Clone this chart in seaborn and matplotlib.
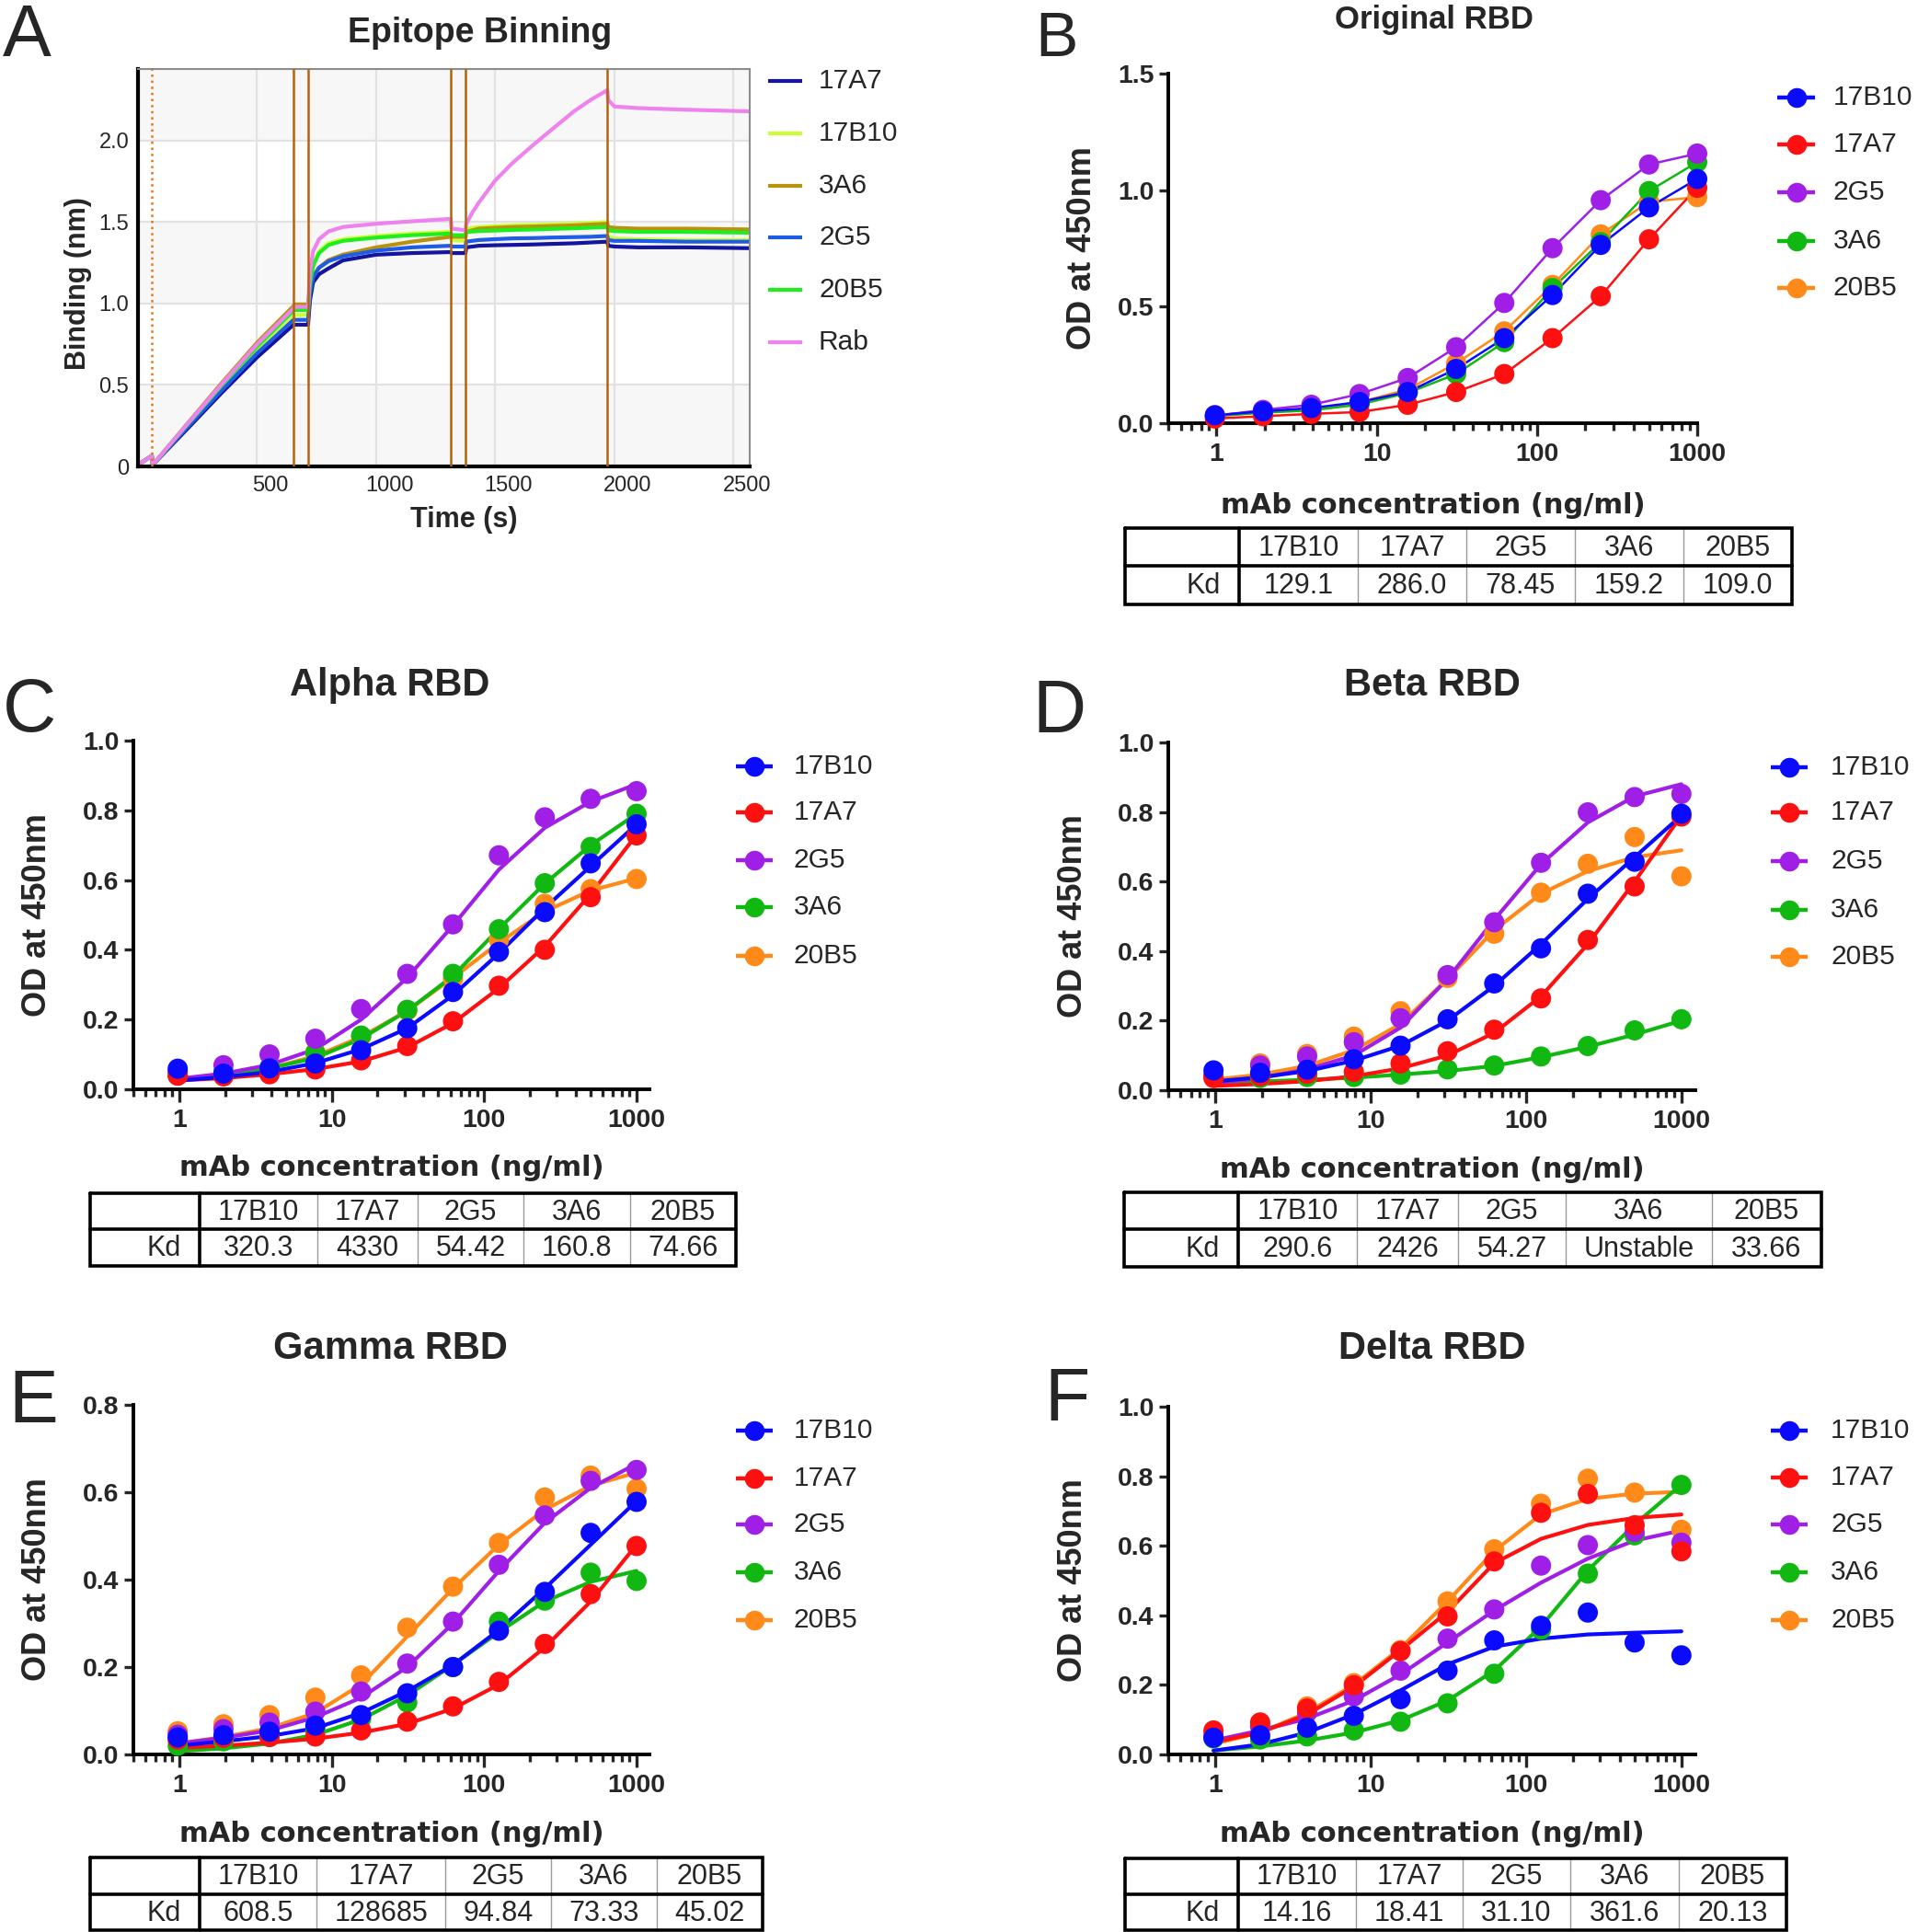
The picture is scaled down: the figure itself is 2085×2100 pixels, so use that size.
import numpy as np
import pandas as pd
import matplotlib
matplotlib.use("Agg")
import matplotlib.pyplot as plt
from matplotlib.ticker import LogLocator, NullFormatter
import seaborn as sns

W, H = 2085, 2100  # figure size in pixels (dpi 100)

# --- Panel A: epitope binning sensorgram ---
bin_names = ["17A7", "17B10", "3A6", "2G5", "20B5", "Rab"]
bin_colors = ["#14149E", "#CCFF33", "#B8930D", "#1E5CE6", "#1EEE1E", "#EE82EE"]
bin_time = [0, 58, 62, 200, 350, 500, 653, 656, 714, 722,
            735, 760, 800, 860, 1000, 1150, 1313, 1316, 1375, 1378,
            1404, 1431, 1498, 1570, 1664, 1730, 1830, 1900, 1970, 1974,
            2000, 2100, 2300, 2568]
bin_17A7 = [0.01, 0.065, 0.01, 0.22, 0.45, 0.67, 0.87, 0.87, 0.87, 1.02,
            1.13, 1.18, 1.216, 1.265, 1.30, 1.31, 1.316, 1.31, 1.31, 1.345,
            1.35, 1.355, 1.358, 1.36, 1.363, 1.366, 1.37, 1.375, 1.38, 1.355,
            1.35, 1.345, 1.345, 1.34]
bin_17B10 = [0.01, 0.065, 0.01, 0.235, 0.475, 0.705, 0.915, 0.93, 0.93, 1.12,
             1.24, 1.32, 1.37, 1.395, 1.414, 1.43, 1.44, 1.39, 1.385, 1.46,
             1.465, 1.47, 1.475, 1.48, 1.483, 1.486, 1.49, 1.495, 1.50, 1.41,
             1.40, 1.395, 1.39, 1.39]
bin_3A6 = [0.01, 0.065, 0.01, 0.25, 0.51, 0.76, 0.985, 0.995, 0.995, 1.08,
           1.17, 1.22, 1.267, 1.30, 1.345, 1.38, 1.41, 1.41, 1.41, 1.44,
           1.45, 1.46, 1.465, 1.47, 1.473, 1.476, 1.48, 1.485, 1.49, 1.47,
           1.465, 1.46, 1.46, 1.455]
bin_2G5 = [0.01, 0.065, 0.01, 0.23, 0.465, 0.695, 0.90, 0.90, 0.90, 1.06,
           1.16, 1.22, 1.26, 1.29, 1.325, 1.345, 1.355, 1.35, 1.35, 1.38,
           1.385, 1.39, 1.395, 1.40, 1.402, 1.405, 1.408, 1.41, 1.415, 1.39,
           1.385, 1.385, 1.38, 1.38]
bin_20B5 = [0.01, 0.065, 0.01, 0.245, 0.495, 0.735, 0.955, 0.96, 0.96, 1.12,
            1.23, 1.31, 1.36, 1.385, 1.405, 1.42, 1.43, 1.42, 1.42, 1.44,
            1.442, 1.445, 1.448, 1.452, 1.455, 1.458, 1.462, 1.466, 1.47, 1.45,
            1.445, 1.44, 1.44, 1.435]
bin_Rab = [0.01, 0.065, 0.01, 0.248, 0.503, 0.75, 0.97, 0.98, 0.98, 1.2,
           1.32, 1.395, 1.443, 1.47, 1.49, 1.505, 1.52, 1.46, 1.45, 1.49,
           1.56, 1.62, 1.753, 1.86, 1.98, 2.06, 2.18, 2.25, 2.31, 2.25,
           2.21, 2.20, 2.19, 2.18]
baseline_end = 58
step_times = [653, 714, 1313, 1375, 1970]

# --- Panels B-F: ELISA OD450 vs mAb concentration ---
mab_order = ["17B10", "17A7", "2G5", "3A6", "20B5"]
mab_colors = ["#0A0AFF", "#FF1010", "#A01FE6", "#12B812", "#FF8A1A"]
conc = [0.977, 1.95, 3.91, 7.81, 15.6, 31.3, 62.5, 125, 250, 500, 1000]

orig_pts = {
    "17B10": [0.034, 0.051, 0.065, 0.091, 0.134, 0.233, 0.365, 0.55, 0.765, 0.926, 1.048],
    "17A7": [0.02, 0.03, 0.04, 0.048, 0.079, 0.134, 0.211, 0.365, 0.545, 0.789, 1.01],
    "2G5": [0.031, 0.057, 0.079, 0.125, 0.194, 0.326, 0.516, 0.751, 0.957, 1.11, 1.157],
    "3A6": [0.03, 0.045, 0.055, 0.08, 0.13, 0.211, 0.348, 0.58, 0.777, 0.996, 1.12],
    "20B5": [0.035, 0.05, 0.06, 0.09, 0.145, 0.257, 0.394, 0.593, 0.81, 0.95, 0.97],
}
alpha_pts = {
    "17B10": [0.059, 0.045, 0.06, 0.074, 0.112, 0.175, 0.279, 0.394, 0.508, 0.648, 0.76],
    "17A7": [0.039, 0.037, 0.043, 0.057, 0.083, 0.124, 0.195, 0.297, 0.40, 0.551, 0.728],
    "2G5": [0.05, 0.069, 0.10, 0.145, 0.23, 0.331, 0.473, 0.671, 0.78, 0.833, 0.855],
    "3A6": [0.04, 0.05, 0.063, 0.104, 0.154, 0.228, 0.331, 0.459, 0.591, 0.695, 0.79],
    "20B5": [0.04, 0.05, 0.06, 0.106, 0.151, 0.226, 0.317, 0.429, 0.532, 0.574, 0.603],
}
alpha_fit = {
    "17B10": [0.025, 0.035, 0.05, 0.075, 0.115, 0.175, 0.27, 0.39, 0.52, 0.64, 0.76],
    "17A7": [0.025, 0.032, 0.043, 0.058, 0.08, 0.12, 0.19, 0.29, 0.41, 0.56, 0.73],
    "2G5": [0.03, 0.045, 0.07, 0.115, 0.2, 0.32, 0.47, 0.63, 0.75, 0.825, 0.875],
    "3A6": [0.028, 0.04, 0.06, 0.09, 0.145, 0.225, 0.325, 0.46, 0.59, 0.70, 0.79],
    "20B5": [0.028, 0.04, 0.06, 0.095, 0.15, 0.225, 0.32, 0.42, 0.51, 0.57, 0.605],
}
beta_pts = {
    "17B10": [0.057, 0.05, 0.059, 0.089, 0.128, 0.204, 0.307, 0.408, 0.565, 0.657, 0.795],
    "17A7": [0.035, 0.04, 0.047, 0.053, 0.077, 0.112, 0.174, 0.264, 0.432, 0.586, 0.787],
    "2G5": [0.04, 0.071, 0.097, 0.138, 0.207, 0.331, 0.483, 0.654, 0.799, 0.843, 0.852],
    "3A6": [0.04, 0.035, 0.038, 0.038, 0.045, 0.06, 0.071, 0.097, 0.127, 0.172, 0.204],
    "20B5": [0.045, 0.077, 0.104, 0.154, 0.227, 0.323, 0.45, 0.568, 0.651, 0.728, 0.615],
}
beta_fit = {
    "17B10": [0.025, 0.037, 0.055, 0.085, 0.128, 0.2, 0.3, 0.42, 0.55, 0.67, 0.79],
    "17A7": [0.012, 0.018, 0.026, 0.04, 0.063, 0.1, 0.165, 0.27, 0.42, 0.6, 0.79],
    "2G5": [0.02, 0.035, 0.06, 0.1, 0.18, 0.32, 0.49, 0.65, 0.77, 0.845, 0.88],
    "3A6": [0.02, 0.025, 0.03, 0.036, 0.045, 0.055, 0.07, 0.095, 0.125, 0.16, 0.2],
    "20B5": [0.03, 0.045, 0.07, 0.115, 0.19, 0.32, 0.46, 0.565, 0.63, 0.67, 0.69],
}
gamma_pts = {
    "17B10": [0.039, 0.044, 0.052, 0.066, 0.09, 0.14, 0.2, 0.283, 0.372, 0.507, 0.578],
    "17A7": [0.034, 0.038, 0.04, 0.041, 0.055, 0.075, 0.11, 0.166, 0.253, 0.367, 0.477],
    "2G5": [0.045, 0.058, 0.073, 0.098, 0.144, 0.208, 0.304, 0.434, 0.547, 0.626, 0.651],
    "3A6": [0.02, 0.03, 0.04, 0.055, 0.082, 0.119, 0.2, 0.304, 0.352, 0.416, 0.397],
    "20B5": [0.053, 0.069, 0.09, 0.13, 0.181, 0.29, 0.384, 0.484, 0.588, 0.638, 0.608],
}
gamma_fit = {
    "17B10": [0.02, 0.03, 0.042, 0.06, 0.095, 0.145, 0.205, 0.285, 0.38, 0.48, 0.58],
    "17A7": [0.015, 0.02, 0.027, 0.036, 0.05, 0.07, 0.105, 0.16, 0.245, 0.35, 0.48],
    "2G5": [0.025, 0.038, 0.055, 0.085, 0.13, 0.2, 0.3, 0.42, 0.53, 0.61, 0.665],
    "3A6": [0.007, 0.014, 0.025, 0.045, 0.08, 0.135, 0.205, 0.28, 0.35, 0.395, 0.42],
    "20B5": [0.025, 0.04, 0.06, 0.095, 0.16, 0.27, 0.38, 0.48, 0.56, 0.615, 0.645],
}
delta_pts = {
    "17B10": [0.048, 0.055, 0.077, 0.111, 0.159, 0.241, 0.328, 0.37, 0.408, 0.322, 0.285],
    "17A7": [0.069, 0.092, 0.132, 0.199, 0.297, 0.397, 0.555, 0.695, 0.749, 0.659, 0.584],
    "2G5": [0.05, 0.08, 0.12, 0.167, 0.241, 0.333, 0.417, 0.543, 0.602, 0.64, 0.609],
    "3A6": [0.046, 0.043, 0.052, 0.069, 0.094, 0.147, 0.232, 0.359, 0.52, 0.63, 0.775],
    "20B5": [0.06, 0.085, 0.138, 0.205, 0.3, 0.44, 0.59, 0.721, 0.793, 0.753, 0.646],
}
delta_fit = {
    "17B10": [0.011, 0.029, 0.063, 0.115, 0.184, 0.259, 0.31, 0.333, 0.345, 0.35, 0.354],
    "17A7": [0.035, 0.063, 0.115, 0.195, 0.3, 0.41, 0.55, 0.62, 0.66, 0.68, 0.69],
    "2G5": [0.04, 0.069, 0.103, 0.155, 0.23, 0.322, 0.414, 0.494, 0.563, 0.615, 0.644],
    "3A6": [0.011, 0.023, 0.04, 0.063, 0.098, 0.155, 0.241, 0.368, 0.529, 0.661, 0.776],
    "20B5": [0.03, 0.063, 0.12, 0.2, 0.305, 0.44, 0.585, 0.69, 0.735, 0.75, 0.755],
}

kd_orig = ["129.1", "286.0", "78.45", "159.2", "109.0"]
kd_alpha = ["320.3", "4330", "54.42", "160.8", "74.66"]
kd_beta = ["290.6", "2426", "54.27", "Unstable", "33.66"]
kd_gamma = ["608.5", "128685", "94.84", "73.33", "45.02"]
kd_delta = ["14.16", "18.41", "31.10", "361.6", "20.13"]

# ---------------------------------------------------------------------------
sns.set_style("white")
plt.rcParams["font.family"] = ["Liberation Sans", "DejaVu Sans"]
plt.rcParams["axes.linewidth"] = 2.8

fig = plt.figure(figsize=(W / 100, H / 100), dpi=100)

# transparent overlay in pixel coordinates for letters, titles, legends, tables
ov = fig.add_axes([0, 0, 1, 1])
ov.set_xlim(0, W)
ov.set_ylim(H, 0)
ov.axis("off")
ov.patch.set_visible(False)


def px_rect(left, top, right, bottom):
    return [left / W, 1 - bottom / H, (right - left) / W, (bottom - top) / H]


def place_labels(ax, box, xl_y, yl_x, yl_y=None):
    left, top, right, bottom = box
    w, h = right - left, bottom - top
    ax.xaxis.set_label_coords(0.5, -(xl_y - bottom) / h)
    ax.xaxis.label.set_va("center")
    yy = 0.5 if yl_y is None else (bottom - yl_y) / h
    ax.yaxis.set_label_coords((yl_x - left) / w, yy)
    ax.yaxis.label.set_va("center")


def legend_block(x0, x1, xt, ys, names, colors, marker=True, lw=3.2):
    for y, n, c in zip(ys, names, colors):
        ov.plot([x0, x1], [y, y], color=c, lw=lw, solid_capstyle="butt")
        if marker:
            ov.plot([(x0 + x1) / 2], [y], "o", ms=15.5, color=c, mec="none")
        ov.text(xt, y, n, ha="left", va="center", fontsize=21.5)


def kd_table(cols, rows, values):
    left, right = cols[0], cols[-1]
    top, mid, bot = rows
    for x in cols[2:-1]:
        ov.plot([x, x], [top, bot], color="#9A9A9A", lw=1.0)
    ov.plot([left, right, right, left, left], [top, top, bot, bot, top],
            color="black", lw=2.6, solid_joinstyle="miter")
    ov.plot([left, right], [mid, mid], color="black", lw=2.6)
    ov.plot([cols[1], cols[1]], [top, bot], color="black", lw=2.6)
    for i, name in enumerate(mab_order):
        xc = (cols[i + 1] + cols[i + 2]) / 2
        ov.text(xc, (top + mid) / 2 + 1, name, ha="center", va="center", fontsize=22)
        ov.text(xc, (mid + bot) / 2 + 1, values[i], ha="center", va="center", fontsize=22)
    ov.text(cols[1] - 20, (mid + bot) / 2 + 1, "Kd", ha="right", va="center", fontsize=22)


def long_frame(d):
    rows = []
    for m in mab_order[::-1]:
        for c, v in zip(conc, d[m]):
            rows.append((c, v, m))
    return pd.DataFrame(rows, columns=["conc", "od", "mAb"])


def dose_panel(box, pts, fit, yticks, xmax, line_w, xl_y, yl_x):
    ax = fig.add_axes(px_rect(*box))
    ax.set_xscale("log")
    sns.lineplot(data=long_frame(fit), x="conc", y="od", hue="mAb",
                 hue_order=mab_order[::-1], palette=mab_colors[::-1],
                 estimator=None, lw=line_w, legend=False, clip_on=False, ax=ax)
    sns.scatterplot(data=long_frame(pts), x="conc", y="od", hue="mAb",
                    hue_order=mab_order, palette=mab_colors, s=250,
                    linewidth=0, legend=False, clip_on=False, zorder=3, ax=ax)
    ax.set_xlim(0.5, xmax)
    ax.set_ylim(yticks[0], yticks[-1])
    ax.set_xticks([1, 10, 100, 1000])
    ax.set_xticklabels(["1", "10", "100", "1000"], fontweight="bold", fontsize=20.5)
    ax.xaxis.set_minor_locator(LogLocator(base=10, subs=np.arange(2, 10), numticks=20))
    ax.xaxis.set_minor_formatter(NullFormatter())
    ax.set_yticks(yticks)
    ax.set_yticklabels([f"{v:.1f}" for v in yticks], fontweight="bold", fontsize=20.5)
    ax.tick_params(axis="x", which="major", length=10, width=2.4, pad=5, direction="out", bottom=True)
    ax.tick_params(axis="x", which="minor", length=5.5, width=2.4, direction="out", bottom=True)
    ax.tick_params(axis="y", which="major", length=7, width=2.4, pad=4, direction="out", left=True)
    sns.despine(ax=ax)
    for s in ("left", "bottom"):
        ax.spines[s].set_linewidth(2.8)
        ax.spines[s].set_color("black")
    ax.set_xlabel("mAb concentration (ng/ml)", fontsize=22, fontweight="bold", family="DejaVu Sans")
    ax.set_ylabel("OD at 450nm", fontsize=26, fontweight="bold")
    place_labels(ax, box, xl_y, yl_x)
    return ax


# ---------------- Panel A ----------------
box_a = (150, 75, 815, 507)
ax_a = fig.add_axes(px_rect(*box_a))
bin_series = [bin_17A7, bin_17B10, bin_3A6, bin_2G5, bin_20B5, bin_Rab]
df_bin = pd.DataFrame(
    [(t, v, n) for n, vals in zip(bin_names, bin_series) for t, v in zip(bin_time, vals)],
    columns=["time", "binding", "mAb"])
for lo, hi in [(0, 0.5), (1.0, 1.5), (2.0, 2.44)]:
    ax_a.axhspan(lo, hi, color="#F7F7F7", zorder=0, lw=0)
sns.lineplot(data=df_bin, x="time", y="binding", hue="mAb", hue_order=bin_names,
             palette=bin_colors, estimator=None, sort=False, lw=3.0, legend=False, ax=ax_a)
ax_a.axvline(baseline_end, color="#E07818", ls=":", lw=1.8, zorder=3)
for t in step_times:
    ax_a.axvline(t, color="#B5620E", lw=1.8, zorder=3)
ax_a.set_xlim(0, 2568)
ax_a.set_ylim(0, 2.44)
ax_a.set_xticks([500, 1000, 1500, 2000, 2500])
ax_a.set_xticklabels([])
ax_a.set_xticks([555, 1055, 1555, 2055, 2555], minor=True)
ax_a.set_xticklabels(["500", "1000", "1500", "2000", "2500"], minor=True, fontsize=17)
ax_a.set_yticks([0, 0.5, 1.0, 1.5, 2.0])
ax_a.set_yticklabels(["0", "0.5", "1.0", "1.5", "2.0"], fontsize=17)
ax_a.tick_params(axis="both", which="both", length=0, pad=7)
ax_a.grid(True, which="major", color="#E2E2E2", lw=1.6)
ax_a.set_axisbelow(True)
for s in ("left", "bottom"):
    ax_a.spines[s].set_linewidth(3.0)
    ax_a.spines[s].set_color("black")
for s in ("top", "right"):
    ax_a.spines[s].set_linewidth(1.5)
    ax_a.spines[s].set_color("#8C8C8C")
ax_a.set_xlabel("Time (s)", fontsize=22, fontweight="bold")
ax_a.set_ylabel("Binding (nm)", fontsize=22, fontweight="bold")
ax_a.xaxis.set_label_coords((504 - 150) / 665, -(565 - 507) / 432)
ax_a.xaxis.label.set_va("center")
ax_a.yaxis.set_label_coords((85 - 150) / 665, (507 - 308) / 432)
ax_a.yaxis.label.set_va("center")
legend_block(835, 872, 890, [88, 145, 202, 258, 315, 372], bin_names, bin_colors, marker=False, lw=3.0)
ov.text(522, 46, "Epitope Binning", ha="center", va="baseline", fontsize=27, fontweight="bold")
ov.text(3, 61, "A", ha="left", va="baseline", fontsize=57)

# ---------------- Panel B: Original RBD ----------------
box_b = (1270, 80, 1845, 460)
dose_panel(box_b, orig_pts, orig_pts, [0.0, 0.5, 1.0, 1.5], 1000, 1.8, 550, 1176)
legend_block(1932, 1973, 1993, [106, 157, 209, 262, 313], mab_order, mab_colors)
ov.text(1559, 31, "Original RBD", ha="center", va="baseline", fontsize=25, fontweight="bold")
ov.text(1125, 61, "B", ha="left", va="baseline", fontsize=50)
kd_table([1223, 1347, 1476, 1594, 1712, 1830, 1948], [574, 615, 657], kd_orig)

# ---------------- Panel C: Alpha RBD ----------------
box_c = (145, 805, 706, 1184)
dose_panel(box_c, alpha_pts, alpha_fit, [0.0, 0.2, 0.4, 0.6, 0.8, 1.0], 1215, 3.0, 1270, 41)
legend_block(800, 840, 863, [833, 883, 935, 986, 1039], mab_order, mab_colors)
ov.text(424, 756, "Alpha RBD", ha="center", va="baseline", fontsize=30, fontweight="bold")
ov.text(3, 795, "C", ha="left", va="baseline", fontsize=58)
kd_table([98, 217, 345, 454, 569, 685, 800], [1297, 1336, 1376], kd_alpha)

# ---------------- Panel D: Beta RBD ----------------
box_d = (1270, 807, 1843, 1185)
dose_panel(box_d, beta_pts, beta_fit, [0.0, 0.2, 0.4, 0.6, 0.8, 1.0], 1230, 3.0, 1271, 1166)
legend_block(1925, 1965, 1990, [834, 883, 936, 989, 1040], mab_order, mab_colors)
ov.text(1557, 756, "Beta RBD", ha="center", va="baseline", fontsize=30, fontweight="bold")
ov.text(1122, 796, "D", ha="left", va="baseline", fontsize=58)
kd_table([1222, 1346, 1475, 1585, 1702, 1861, 1980], [1296, 1336, 1377], kd_beta)

# ---------------- Panel E: Gamma RBD ----------------
box_e = (145, 1527, 706, 1907)
dose_panel(box_e, gamma_pts, gamma_fit, [0.0, 0.2, 0.4, 0.6, 0.8], 1215, 3.0, 1993, 41)
legend_block(800, 840, 863, [1555, 1607, 1657, 1709, 1761], mab_order, mab_colors)
ov.text(424, 1477, "Gamma RBD", ha="center", va="baseline", fontsize=30, fontweight="bold")
ov.text(9, 1546, "E", ha="left", va="baseline", fontsize=58)
kd_table([98, 217, 344, 484, 599, 714, 829], [2019, 2059, 2098], kd_gamma)

# ---------------- Panel F: Delta RBD ----------------
box_f = (1270, 1529, 1843, 1907)
dose_panel(box_f, delta_pts, delta_fit, [0.0, 0.2, 0.4, 0.6, 0.8, 1.0], 1230, 3.0, 1993, 1166)
legend_block(1925, 1965, 1990, [1555, 1606, 1657, 1709, 1761], mab_order, mab_colors)
ov.text(1557, 1477, "Delta RBD", ha="center", va="baseline", fontsize=30, fontweight="bold")
ov.text(1135, 1544, "F", ha="left", va="baseline", fontsize=58)
kd_table([1223, 1346, 1474, 1590, 1707, 1825, 1942], [2020, 2059, 2098], kd_delta)

fig.savefig("out.png", dpi=100)
